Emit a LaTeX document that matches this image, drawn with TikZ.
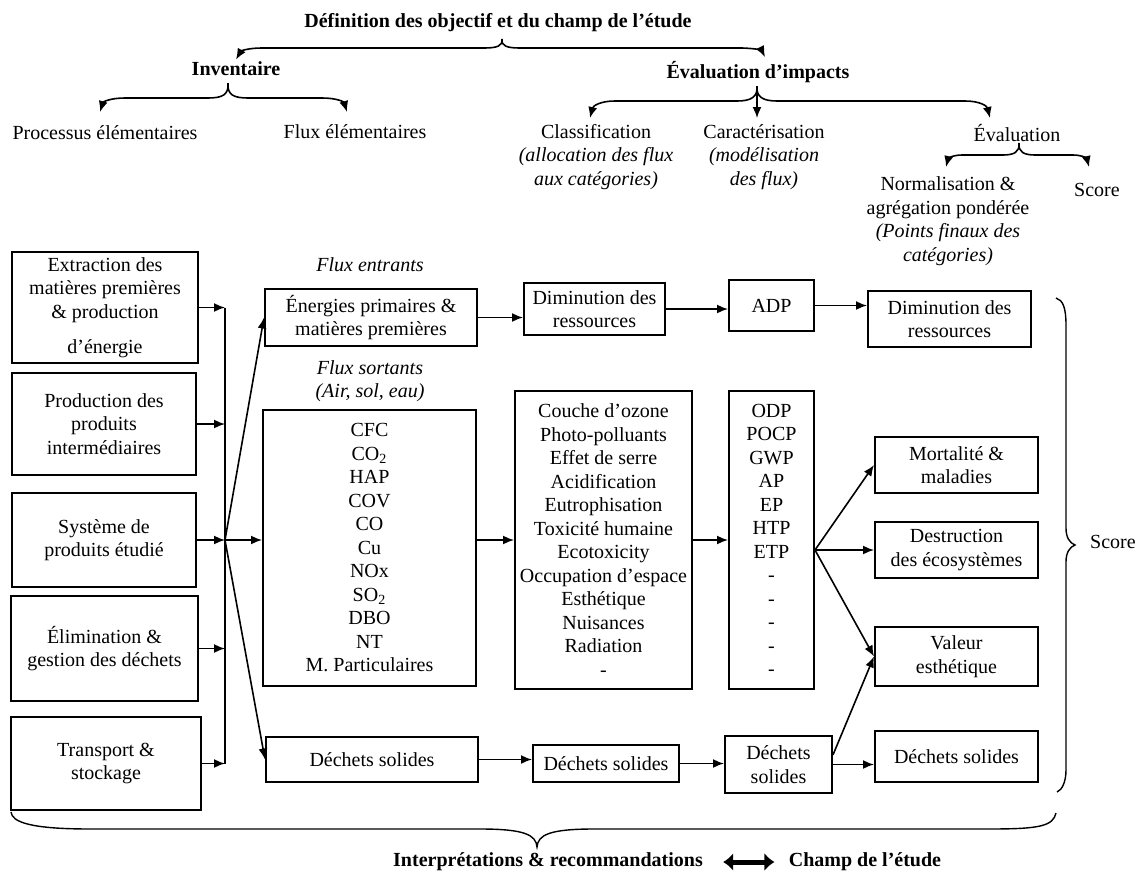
\documentclass[tikz,border=0pt]{standalone}
\usepackage{fontspec}
\setmainfont{Liberation Serif}
\usetikzlibrary{arrows.meta,calc}

\tikzset{
    boite/.style={draw,line width=1pt,align=center,inner sep=1pt},
    taille/.style 2 args={minimum width=#1*0.5pt,minimum height=#2*0.5pt},
    texte/.style={align=center,inner sep=1pt},
    gras/.style={texte,font=\bfseries},
    ital/.style={texte,font=\itshape},
    fleche/.style={line width=0.8pt,-{Latex[length=5.5pt,width=4.5pt]}},
    accolade/.style={line width=0.7pt},
}

\begin{document}
\fontsize{10}{11.75}\selectfont
\begin{tikzpicture}[x=0.5pt,y=-0.5pt]
    \useasboundingbox (0,0) rectangle (1137,873);

    % titres
    \node[gras] (def) at (498,23) {Définition des objectif et du champ de l’étude};
    \node[gras] (inv) at (236,69) {Inventaire};
    \node[gras] (evimp) at (758,72) {Évaluation d’impacts};
    \node[texte] (proc) at (105,133) {Processus élémentaires};
    \node[texte] (fluxel) at (355,132) {Flux élémentaires};
    \node[texte] (classif) at (596,157) {Classification\\{\itshape (allocation des flux}\\{\itshape aux catégories)}};
    \node[texte] (caract) at (764,157) {Caractérisation\\{\itshape (modélisation}\\{\itshape des flux)}};
    \node[texte] (evaluation) at (1017,133) {Évaluation};
    \node[texte] (norm) at (948,221) {Normalisation \&\\agrégation pondérée\\{\itshape (Points finaux des}\\{\itshape catégories)}};
    \node[texte] (score) at (1097,190) {Score};

    \coordinate (defP) at (502,39);
    \coordinate (invP) at (228,83);
    \coordinate (evimpP) at (757,86);
    \coordinate (evalP) at (1019,143);
    \coordinate (procT) at (100,112);
    \coordinate (fluxelT) at (347,112);
    \coordinate (classifT) at (590,118);
    \coordinate (caractT) at (757,118);
    \coordinate (evaluationT) at (990,118);
    \coordinate (normT) at (946,167);
    \coordinate (scoreT) at (1089,167);

    \draw[accolade,fleche] (defP) .. controls (503,46) and (497,48) .. (484,48) -- (262,48) .. controls (248,48) and (241,51) .. (inv.north);
    \draw[accolade,fleche] (defP) .. controls (501,46) and (507,48) .. (520,48) -- (740,48) .. controls (755,48) and (762,51) .. (765,57);
    \draw[accolade,fleche] (invP) .. controls (229,95) and (222,98) .. (208,98) -- (125,98) .. controls (110,98) and (103,102) .. (procT);
    \draw[accolade,fleche] (invP) .. controls (227,95) and (234,98) .. (248,98) -- (322,98) .. controls (337,98) and (344,102) .. (fluxelT);
    \draw[accolade,fleche] (evimpP) .. controls (758,97) and (751,101) .. (737,101) -- (615,101) .. controls (600,101) and (593,106) .. (classifT);
    \draw[accolade,fleche] (evimpP) .. controls (756,97) and (763,101) .. (777,101) -- (965,101) .. controls (980,101) and (987,106) .. (evaluationT);
    \draw[accolade,fleche] (evimpP) -- (caractT);
    \draw[accolade,fleche] (evalP) .. controls (1020,152) and (1014,155) .. (1003,155) -- (962,155) .. controls (952,155) and (948,159) .. (normT);
    \draw[accolade,fleche] (evalP) .. controls (1018,152) and (1024,155) .. (1035,155) -- (1073,155) .. controls (1083,155) and (1087,159) .. (scoreT);

    % systeme de produits
    \node[boite,taille={186}{111}] (ext) at (105,307.5) {Extraction des\\matières premières\\\& production\\[6pt]d’énergie};
    \node[boite,taille={184}{102}] (prod) at (104,424) {Production des\\produits\\intermédiaires};
    \node[boite,taille={184}{94}] (sys) at (104,540) {Système de\\produits étudié};
    \node[boite,taille={187}{105}] (elim) at (104.5,648.5) {Élimination \&\\gestion des déchets};
    \node[boite,taille={190}{93}] (trans) at (106,763.5) {Transport \&\\stockage};

    % flux
    \node[ital] (entr) at (370,265) {Flux entrants};
    \node[ital] (sort) at (370,381) {Flux sortants\\(Air, sol, eau)};
    \node[boite,taille={212}{57}] (ener) at (371,317.5) {Énergies primaires \&\\matières premières};
    \node[boite,taille={213}{276}] (cfc) at (369.5,548) {CFC\\CO\textsubscript{2}\\HAP\\COV\\CO\\Cu\\NOx\\SO\textsubscript{2}\\DBO\\NT\\M. Particulaires};
    \node[boite,taille={212}{45}] (dech1) at (372,759.5) {Déchets solides};

    \node[boite,taille={141}{52}] (dimA) at (594.5,309) {Diminution des\\ressources};
    \node[boite,taille={177}{298}] (couche) at (603.5,540) {Couche d’ozone\\Photo-polluants\\Effet de serre\\Acidification\\Eutrophisation\\Toxicité humaine\\Ecotoxicity\\Occupation d’espace\\Esthétique\\Nuisances\\Radiation\\-};
    \node[boite,taille={146}{37}] (dech2) at (606,763.5) {Déchets solides};

    \node[boite,taille={85}{51}] (adp) at (771.5,305.5) {ADP};
    \node[boite,taille={85}{298}] (odp) at (771.5,540) {ODP\\POCP\\GWP\\AP\\EP\\HTP\\ETP\\-\\-\\-\\-\\-};
    \node[boite,taille={107}{57}] (dech3) at (778.5,764.5) {Déchets\\solides};

    \node[boite,taille={163}{56}] (dimB) at (949.5,319) {Diminution des\\ressources};
    \node[boite,taille={163}{56}] (mort) at (956.5,465) {Mortalité \&\\maladies};
    \node[boite,taille={163}{56}] (destr) at (956.5,550) {Destruction\\des écosystèmes};
    \node[boite,taille={163}{59}] (val) at (956.5,656.5) {Valeur\\esthétique};
    \node[boite,taille={163}{51}] (dech4) at (956.5,756.5) {Déchets solides};

    \node[texte] (scoreR) at (1113,542) {Score};
    \node[gras] (interp) at (548,862) {Interprétations \& recommandations};
    \node[gras] (champ) at (865,862) {Champ de l’étude};

    % connexions
    \coordinate (hub) at (225,540);
    \foreach \b in {ext,prod,sys,elim,trans}
        \draw[fleche] (\b.east) -- (\b.east -| hub);
    \draw[line width=0.8pt] (ext.east -| hub) -- (trans.east -| hub);
    \draw[fleche] (hub) -- (ener.west);
    \draw[fleche] (hub) -- (hub -| cfc.west);
    \draw[fleche] (hub) -- (dech1.west);

    \draw[fleche] (ener.east) -- (ener.east -| dimA.west);
    \draw[fleche] (dimA.east) -- (dimA.east -| adp.west);
    \draw[fleche] (adp.east) -- (adp.east -| dimB.west);
    \draw[fleche] (hub -| cfc.east) -- (hub -| couche.west);
    \draw[fleche] (couche.east) -- (odp.west);
    \coordinate (odpout) at (odp.east |- destr.west);
    \foreach \c in {mort,destr,val}
        \draw[fleche] (odpout) -- (\c.west);
    \draw[fleche] (dech1.east) -- (dech1.east -| dech2.west);
    \draw[fleche] (dech2.east) -- (dech2.east -| dech3.west);
    \draw[fleche] (dech3.10) -- (val.west);
    \draw[fleche] (dech3.east) -- (dech3.east -| dech4.west);

    % accolades
    \draw[accolade] (1056,298) .. controls (1063,300) and (1066,308) .. (1066,325) -- (1066,528) .. controls (1066,538) and (1070,543) .. (1075,545) .. controls (1070,547) and (1066,552) .. (1066,562) -- (1066,770) .. controls (1066,782) and (1062,790) .. (1057,792);
    \draw[accolade] (11,812) .. controls (12,822) and (30,829) .. (90,829) -- (480,829) .. controls (525,829) and (536,835) .. (537,847) .. controls (538,835) and (549,829) .. (594,829) -- (990,829) .. controls (1040,829) and (1053,826) .. (1056,813);
    \draw[line width=2.5pt,{Latex[length=5pt,width=9pt]}-{Latex[length=5pt,width=9pt]},shorten <=9pt,shorten >=6pt] (interp.east) -- (champ.west);

\end{tikzpicture}
\end{document}
